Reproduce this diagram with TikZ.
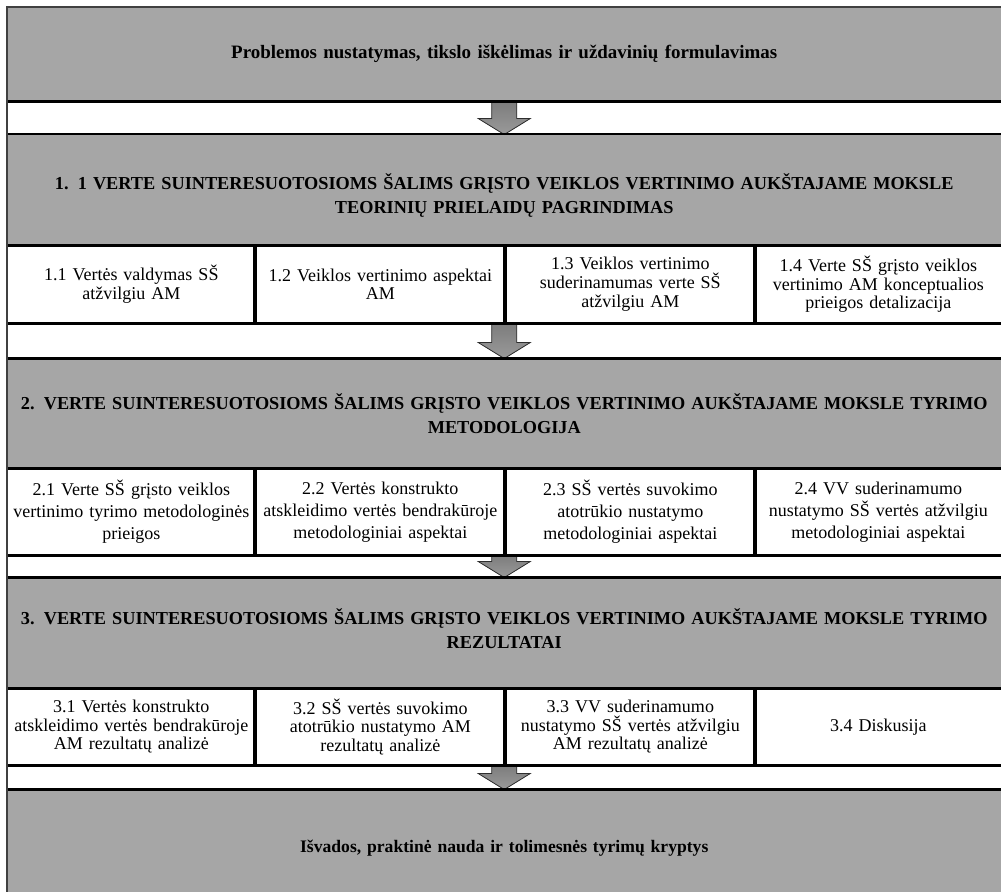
\documentclass[tikz,border=0pt]{standalone}
\usepackage{fontspec}
\setmainfont{Liberation Serif}
\usetikzlibrary{calc}

\definecolor{boxgray}{HTML}{A6A6A6}
\definecolor{framegray}{HTML}{404040}
\definecolor{arrowtop}{HTML}{7C7C7C}
\definecolor{arrowbot}{HTML}{9A9A9A}
\definecolor{arrowline}{HTML}{2E2E2E}

% arrow filling the white gap between two stages
\newcommand\flowarrow[1]{%
  \filldraw[flowtip]
    ($(#1.north)+(-12.5,0)$) -- ($(#1.north)+(12.5,0)$) --
    ($(#1.south)+(12.5,-16)$) -- ($(#1.south)+(26,-16)$) --
    (#1.south) --
    ($(#1.south)+(-26,-16)$) -- ($(#1.south)+(-12.5,-16)$) -- cycle;}

\begin{document}
\begin{tikzpicture}[x=0.75pt,y=-0.75pt,
  stage/.style={anchor=north west, inner sep=0pt, fill=boxgray,
    minimum width=745.5pt},
  stagetext/.style={inner sep=0pt, text width=740pt, align=center,
    font=\bfseries\fontsize{13.7pt}{18pt}\selectfont},
  titletext/.style={stagetext, font=\bfseries\fontsize{14.2pt}{18pt}\selectfont},
  endtext/.style={stagetext, font=\bfseries\fontsize{13.2pt}{18pt}\selectfont},
  gap/.style={anchor=north west, inner sep=0pt, fill=white,
    minimum width=745.5pt},
  task/.style={anchor=north west, inner sep=0pt, fill=white,
    align=center, font=\fontsize{13.5pt}{14pt}\selectfont},
  loose/.style={font=\fontsize{13.5pt}{16.5pt}\selectfont},
  narrow/.style={minimum width=186pt, text width=186pt},
  wide/.style={minimum width=187.5pt, text width=187.5pt},
  last/.style={minimum width=184.5pt, text width=184.5pt},
  flowtip/.style={top color=arrowtop, bottom color=arrowbot,
    draw=arrowline, line width=0.6pt, line join=miter},
  hrule/.style={line width=1.8pt, black},
  vrule/.style={line width=2.4pt, black},
  frame/.style={line width=1.3pt, framegray}
]
\useasboundingbox (0,0) rectangle (1001,892);
\clip (0,0) rectangle (1001,892);
\fill[white] (0,0) rectangle (1001,892);

% stages and gaps
\node[stage, minimum height=70.5pt] (h0) at (7,7) {};
\node[titletext] (t0) at (h0.center)
  {Problemos nustatymas, tikslo iškėlimas ir uždavinių formulavimas};
\node[gap, minimum height=24.75pt] (g1) at (7,101) {};
\node[stage, minimum height=83.25pt] (h1) at (7,134) {};
\node[stagetext] (t1) at ([yshift=-4.5pt]h1.center)
  {1. 1 VERTE SUINTERESUOTOSIOMS ŠALIMS GRĮSTO VEIKLOS VERTINIMO AUKŠTAJAME MOKSLE\\
   TEORINIŲ PRIELAIDŲ PAGRINDIMAS};

\node[task, narrow, minimum height=58.5pt] (c11) at (7,245)
  {1.1 Vertės valdymas SŠ\\atžvilgiu AM};
\node[task, wide, minimum height=58.5pt] (c12) at (255,245)
  {1.2 Veiklos vertinimo aspektai\\AM};
\node[task, wide, minimum height=58.5pt] (c13) at (505,245)
  {1.3 Veiklos vertinimo\\suderinamumas verte SŠ\\atžvilgiu AM};
\node[task, last, minimum height=58.5pt] (c14) at (755,245)
  {1.4 Verte SŠ grįsto veiklos\\vertinimo AM konceptualios\\prieigos detalizacija};

\node[gap, minimum height=26.25pt] (g2) at (7,323) {};
\node[stage, minimum height=82.5pt] (h2) at (7,358) {};
\node[stagetext] (t2) at (h2.center)
  {2. VERTE SUINTERESUOTOSIOMS ŠALIMS GRĮSTO VEIKLOS VERTINIMO AUKŠTAJAME MOKSLE TYRIMO\\
   METODOLOGIJA};

\node[task, loose, narrow, minimum height=65.25pt] (c21) at (7,468)
  {2.1 Verte SŠ grįsto veiklos\\vertinimo tyrimo metodologinės\\prieigos};
\node[task, loose, wide, minimum height=65.25pt] (c22) at (255,468)
  {2.2 Vertės konstrukto\\atskleidimo vertės bendrakūroje\\metodologiniai aspektai};
\node[task, loose, wide, minimum height=65.25pt] (c23) at (505,468)
  {2.3 SŠ vertės suvokimo\\atotrūkio nustatymo\\metodologiniai aspektai};
\node[task, loose, last, minimum height=65.25pt] (c24) at (755,468)
  {2.4 VV suderinamumo\\nustatymo SŠ vertės atžvilgiu\\metodologiniai aspektai};

\node[gap, minimum height=16.5pt] (g3) at (7,555) {};
\node[stage, minimum height=83.25pt] (h3) at (7,577) {};
\node[stagetext] (t3) at ([yshift=3pt]h3.center)
  {3. VERTE SUINTERESUOTOSIOMS ŠALIMS GRĮSTO VEIKLOS VERTINIMO AUKŠTAJAME MOKSLE TYRIMO\\
   REZULTATAI};

\node[task, narrow, minimum height=57.75pt] (c31) at (7,688)
  {3.1 Vertės konstrukto\\atskleidimo vertės bendrakūroje\\AM rezultatų analizė};
\node[task, wide, minimum height=57.75pt] (c32) at (255,688)
  {3.2 SŠ vertės suvokimo\\atotrūkio nustatymo AM\\rezultatų analizė};
\node[task, wide, minimum height=57.75pt] (c33) at (505,688)
  {3.3 VV suderinamumo\\nustatymo SŠ vertės atžvilgiu\\AM rezultatų analizė};
\node[task, last, minimum height=57.75pt] (c34) at (755,688)
  {3.4 Diskusija};

\node[gap, minimum height=18pt] (g4) at (7,765) {};
\node[stage, minimum height=84pt] (h4) at (7,789) {};
\node[endtext] (t4) at ([yshift=-2pt]h4.center)
  {Išvados, praktinė nauda ir tolimesnės tyrimų kryptys};

% arrows between stages
\flowarrow{g1}
\flowarrow{g2}
\flowarrow{g3}
\flowarrow{g4}

% horizontal rules
\foreach \n in {h0,h1,c11,g2,h2,c21,g3,h3,c31,g4}
  \draw[hrule] (\n.south west) -- (\n.south west -| h0.east);
\draw[hrule] (h1.north west) -- (h1.north east);

% column dividers
\foreach \n in {c12,c13,c14,c22,c23,c24,c32,c33,c34}
  \draw[vrule] (\n.north west) -- (\n.south west);

% outer frame
\draw[frame] (h0.north east) -- (h0.north west) -- (7,892);
\end{tikzpicture}
\end{document}
